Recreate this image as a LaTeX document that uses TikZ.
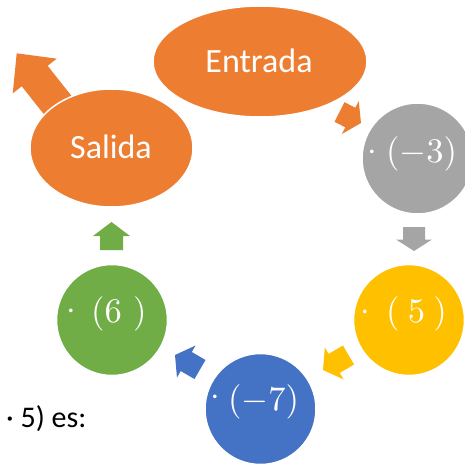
\documentclass[tikz,border=0pt]{standalone}
\usepackage{fontspec}
\usepackage{graphicx}
\newfontfamily\calibri{Carlito}
\usetikzlibrary{calc,shapes.geometric}
\definecolor{oorange}{HTML}{ED7D31}
\definecolor{ogray}{HTML}{A5A5A5}
\definecolor{oyellow}{HTML}{FFC000}
\definecolor{oblue}{HTML}{4472C4}
\definecolor{ogreen}{HTML}{70AD47}
% #1 colour, #2 tail, #3 tip, #4 shaft half width, #5 head half width, #6 head length
\newcommand{\blockarrow}[6]{%
  \coordinate (hb) at ($(#3)!#6pt!(#2)$);
  \fill[#1] ($(#2)!#4pt!90:(#3)$) -- ($(hb)!#4pt!90:(#3)$) -- ($(hb)!#5pt!90:(#3)$)
     -- (#3) -- ($(hb)!#5pt!-90:(#3)$) -- ($(hb)!#4pt!-90:(#3)$) -- ($(#2)!#4pt!-90:(#3)$) -- cycle;
}
\newcommand{\myscaledmath}[1]{\scalebox{3.45}{$#1$}}
\tikzset{
  shapeborder/.style={draw=white, line width=1.5pt, inner sep=0pt},
  oval/.style={shapeborder, ellipse, fill=oorange},
  disc/.style={shapeborder, circle, minimum size=111pt},
  lbl/.style={text=white, inner sep=0pt, font=\calibri\fontsize{34}{40}\selectfont},
  mth/.style={text=white, inner sep=0pt, font=\fontsize{10}{12}\selectfont},
}
\begin{document}
\begin{tikzpicture}[x=1pt,y=-1pt]
\clip (0,0) rectangle (465,463);
\fill[white] (0,0) rectangle (465,463);
% arrow coordinates
\coordinate (a1t) at (339.5,112); \coordinate (a1h) at (361,123);
\coordinate (a2t) at (414,227);   \coordinate (a2h) at (414,251);
\coordinate (a3t) at (348.5,355); \coordinate (a3h) at (323,370);
\coordinate (a4t) at (200,369.5); \coordinate (a4h) at (175,355);
\coordinate (a5t) at (111.5,250); \coordinate (a5h) at (111.5,222);
\coordinate (a6t) at (60,108);    \coordinate (a6h) at (16.7,53.3);
\blockarrow{oorange}{a1t}{a1h}{11}{18.5}{12}
\blockarrow{ogray}{a2t}{a2h}{11}{18}{11.5}
\blockarrow{oyellow}{a3t}{a3h}{11}{18.5}{13}
\blockarrow{oblue}{a4t}{a4h}{11}{18.5}{13}
\blockarrow{ogreen}{a5t}{a5h}{11.5}{18.5}{14}
\blockarrow{oorange}{a6t}{a6h}{16.5}{28}{29}
% shapes
\node[oval, minimum width=214pt, minimum height=111pt] (entrada) at (260,61.5) {};
\node[oval, minimum width=163pt, minimum height=118pt] (salida) at (111.5,148) {};
\node[disc, fill=ogray]   (c3) at (417.5,158.5) {};
\node[disc, fill=oyellow] (c5) at (409,320) {};
\node[disc, fill=oblue]   (c7) at (260.5,409) {};
\node[disc, fill=ogreen]  (c6) at (112,320) {};
% labels
\node[lbl, anchor=base] (tentrada) at (259,72) {Entrada};
\node[lbl, anchor=base] (tsalida) at (111,158) {Salida};
\node[mth, anchor=center] (d3) at (372,153) {\myscaledmath{\cdot}};
\node[mth, anchor=base west] (t3) at (386,162) {\myscaledmath{(-3)}};
\node[mth, anchor=center] (d5) at (365,313) {\myscaledmath{\cdot}};
\node[mth, anchor=base west] (t5) at (386,322) {\myscaledmath{(\hspace{2.4pt}5\hspace{2.4pt})}};
\node[mth, anchor=center] (d6) at (71,311.7) {\myscaledmath{\cdot}};
\node[mth, anchor=base west] (t6) at (91,322) {\myscaledmath{(6\hspace{3.3pt})}};
\node[mth, anchor=center] (d7) at (215,398) {\myscaledmath{\cdot}};
\node[mth, anchor=base west] (t7) at (228,410) {\myscaledmath{(-7)}};
\node[anchor=base west, inner sep=0pt, text=black, font=\calibri\fontsize{30}{36}\selectfont] (note) at (6,427) {· 5) es:};
\end{tikzpicture}
\end{document}
